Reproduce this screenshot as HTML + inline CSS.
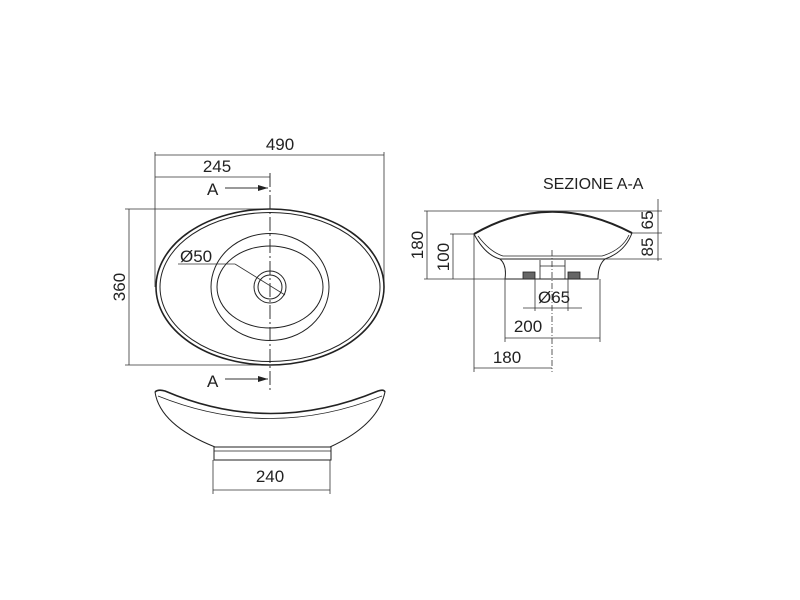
<!DOCTYPE html>
<html><head><meta charset="utf-8"><style>
html,body{margin:0;padding:0;background:#fff;width:800px;height:600px;overflow:hidden}
svg text{font-family:"Liberation Sans",sans-serif;fill:#222}
</style></head><body>
<svg width="800" height="600" viewBox="0 0 800 600" xmlns="http://www.w3.org/2000/svg">
<defs><marker id="ar" markerWidth="10" markerHeight="6" refX="10" refY="3" orient="auto" markerUnits="userSpaceOnUse"><path d="M0,0 L10,3 L0,6 Z" fill="#222"/></marker></defs>
<g stroke="#333" stroke-width="0.8" fill="none">
<line x1="155" y1="152" x2="155" y2="287"/>
<line x1="384" y1="152" x2="384" y2="287"/>
<line x1="155" y1="155" x2="384" y2="155"/>
<line x1="155" y1="177" x2="270" y2="177"/>
<line x1="125" y1="209" x2="270" y2="209"/>
<line x1="125" y1="365" x2="270" y2="365"/>
<line x1="129" y1="209" x2="129" y2="365"/>
<line x1="270" y1="173" x2="270" y2="390" stroke-dasharray="14,3,2,3" stroke-width="1"/>
<line x1="225" y1="188" x2="268" y2="188" stroke-width="1" marker-end="url(#ar)"/>
<line x1="225" y1="379" x2="268" y2="379" stroke-width="1" marker-end="url(#ar)"/>
<line x1="178" y1="264" x2="235" y2="264"/>
<line x1="235" y1="264" x2="285" y2="295"/>
</g>
<g stroke="#222" fill="none">
<ellipse cx="270" cy="287" rx="114" ry="78" stroke-width="1.6"/>
<ellipse cx="270" cy="287" rx="110" ry="74.5" stroke-width="1"/>
<ellipse cx="270" cy="287" rx="59" ry="53.5" stroke-width="1"/>
<ellipse cx="270" cy="287" rx="53" ry="41" stroke-width="1"/>
<circle cx="270" cy="287" r="16" stroke-width="1"/>
<circle cx="270" cy="287" r="12" stroke-width="1"/>
<path d="M155,392 Q158,389 165,391 Q270,436 378,391 Q384,389 385,392" stroke-width="1.6"/>
<path d="M158,396 Q270,441 382,396" stroke-width="0.8"/>
<path d="M155,392 Q160,425 215,447 L330,447 Q378,425 385,392" stroke-width="1"/>
<rect x="214" y="447" width="117" height="13" stroke-width="1"/>
<line x1="214" y1="451" x2="331" y2="451" stroke-width="0.8"/>
<path d="M474,234 Q550,190 632,233" stroke-width="2"/>
<path d="M474,234 Q485,255 500,259 L605,259 Q625,252 632,233" stroke-width="1"/>
<path d="M478,236 Q490,252 503,256 L602,256 Q622,250 629,235" stroke-width="0.8"/>
<path d="M500,259 Q507,265 505,279 L598,279 Q598,265 605,259" stroke-width="1"/>
<path d="M540,260 L540,279 M565,260 L565,279 M540,266 L565,266" stroke-width="0.8"/>
<rect x="523" y="272" width="12" height="7" fill="#666" stroke-width="0.8"/>
<rect x="568" y="272" width="12" height="7" fill="#666" stroke-width="0.8"/>
</g>
<g stroke="#333" stroke-width="0.8" fill="none">
<line x1="213" y1="460" x2="213" y2="494"/>
<line x1="330" y1="460" x2="330" y2="494"/>
<line x1="213" y1="490" x2="330" y2="490"/>
<line x1="424" y1="211" x2="662" y2="211"/>
<line x1="424" y1="279" x2="505" y2="279"/>
<line x1="427" y1="211" x2="427" y2="279"/>
<line x1="450" y1="234" x2="474" y2="234"/>
<line x1="453" y1="234" x2="453" y2="279"/>
<line x1="632" y1="233" x2="662" y2="233"/>
<line x1="605" y1="259" x2="662" y2="259"/>
<line x1="658" y1="199" x2="658" y2="261"/>
<line x1="552" y1="250" x2="552" y2="372" stroke-dasharray="6,2,1,2"/>
<line x1="535" y1="279" x2="535" y2="311"/>
<line x1="568" y1="279" x2="568" y2="311"/>
<line x1="523" y1="308" x2="582" y2="308"/>
<line x1="505" y1="279" x2="505" y2="342"/>
<line x1="600" y1="279" x2="600" y2="342"/>
<line x1="505" y1="338" x2="600" y2="338"/>
<line x1="474" y1="234" x2="474" y2="372"/>
<line x1="474" y1="368" x2="552" y2="368"/>
</g>
<g font-size="17">
<text x="280" y="150" text-anchor="middle">490</text>
<text x="217" y="172" text-anchor="middle">245</text>
<text x="207" y="195">A</text>
<text x="207" y="387">A</text>
<text x="180" y="262">Ø50</text>
<text transform="translate(125,287) rotate(-90)" text-anchor="middle">360</text>
<text x="270" y="482" text-anchor="middle">240</text>
<text x="543" y="189" font-size="16">SEZIONE A-A</text>
<text transform="translate(423,245) rotate(-90)" text-anchor="middle">180</text>
<text transform="translate(449,257) rotate(-90)" text-anchor="middle">100</text>
<text transform="translate(653,220) rotate(-90)" text-anchor="middle">65</text>
<text transform="translate(653,247) rotate(-90)" text-anchor="middle">85</text>
<text x="538" y="303">Ø65</text>
<text x="528" y="332" text-anchor="middle">200</text>
<text x="507" y="363" text-anchor="middle">180</text>
</g>
</svg>
</body></html>
